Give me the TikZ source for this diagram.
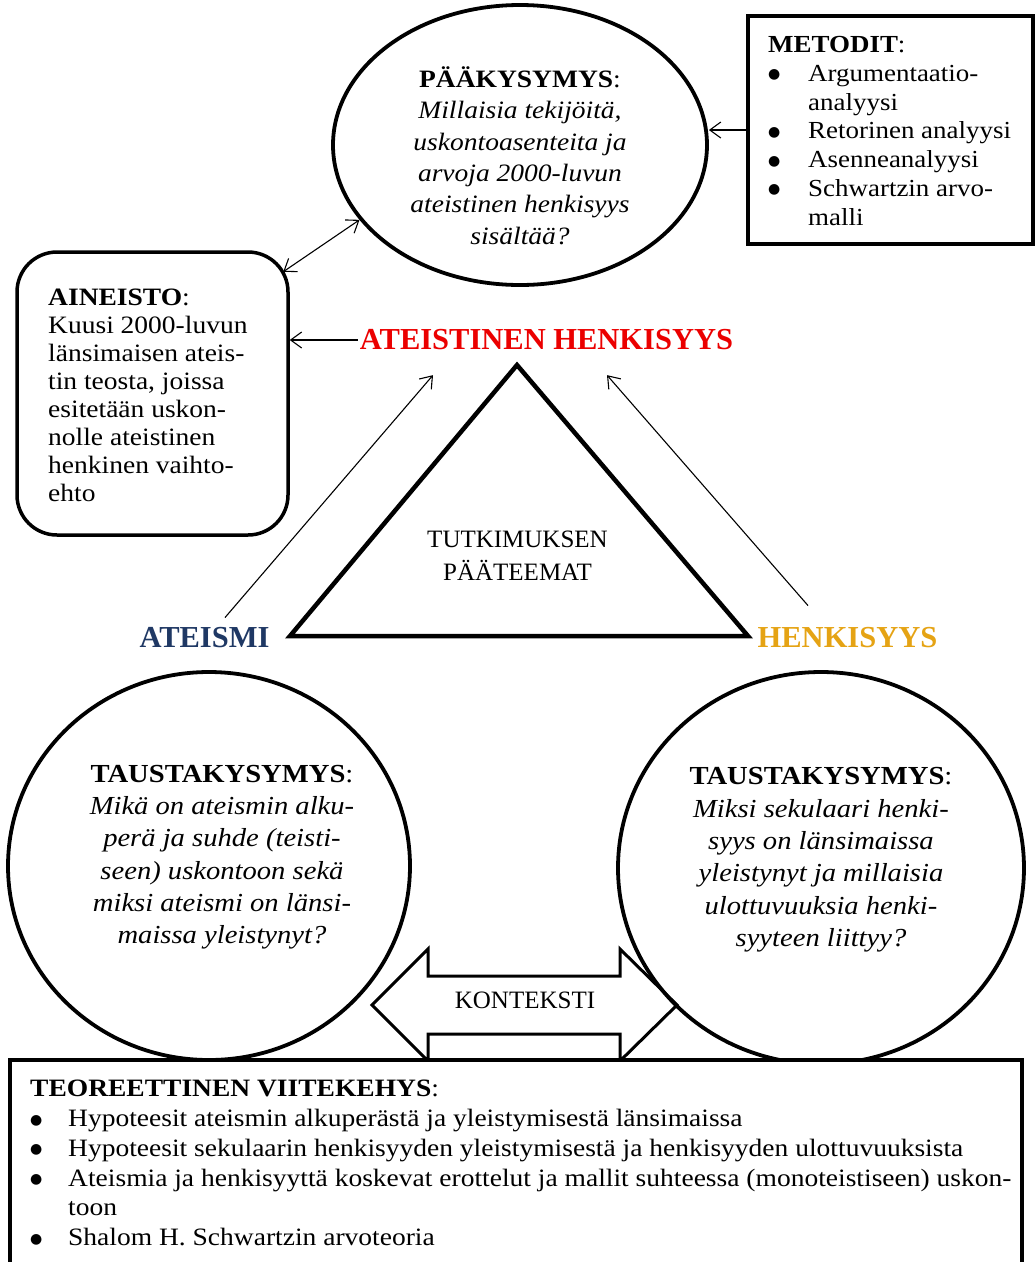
\documentclass[tikz,border=0pt]{standalone}
\usepackage{fontspec}
\setmainfont{Liberation Serif}
\newfontfamily\geo{Liberation Serif}[FakeStretch=1.1]
\newfontfamily\djv{DejaVu Sans}
\usetikzlibrary{shapes.geometric,arrows.meta,calc}
\definecolor{atblue}{RGB}{31,56,100}
\definecolor{hkgold}{RGB}{229,163,20}
\definecolor{ahred}{RGB}{235,0,0}
\newcommand\mystrut{\rule{0pt}{20pt}}
\newcommand\mbul[1]{\makebox[#1][l]{\raisebox{2.5pt}{\djv\fontsize{14}{14}\selectfont●}}}
\begin{document}
\begin{tikzpicture}[x=1pt,y=-1pt,
  oval/.style={ellipse,draw,line width=3.8pt,inner sep=0pt},
  box/.style={rectangle,draw,line width=3.5pt,inner sep=0pt},
  body/.style={inner sep=0pt},
  arr/.style={line width=1.1pt,-{Straight Barb[length=11pt,width=16pt]}},
  darr/.style={line width=1.1pt,{Straight Barb[length=11pt,width=16pt]}-{Straight Barb[length=11pt,width=16pt]}},
  theme/.style={font=\bfseries\fontsize{30.5}{34}\selectfont, inner sep=2pt},
  plain/.style={font=\fontsize{25}{33}\selectfont, inner sep=0pt}
]
\useasboundingbox (0,0) rectangle (1035,1262);

% shapes
\node[oval, minimum width=374pt, minimum height=280pt] (q) at (520,145) {};
\node[box, rounded corners=40pt, minimum width=271pt, minimum height=283pt] (ain) at (152.5,393.5) {};
\node[box, minimum width=285pt, minimum height=228pt] (met) at (890.5,130) {};
\node[oval, minimum width=402pt, minimum height=388pt] (lq) at (209,866) {};
\node[oval, minimum width=406pt, minimum height=392pt] (rq) at (821,868) {};

% triangle
\coordinate (tapex) at (517,365);
\coordinate (tleft) at (290,636);
\coordinate (tright) at (748,636);
\draw[line width=4.5pt, line join=miter] (tapex) -- (tleft) -- (tright) -- cycle;

% context double arrow
\draw[line width=3pt, line join=miter]
  (372,1005) -- (428,949) -- (428,976) -- (620,976) -- (620,949) -- (677,1005)
  -- (620,1061) -- (620,1034) -- (428,1034) -- (428,1061) -- cycle;
\node[plain] (kon) at (525,1000) {KONTEKSTI};

% bottom box
\node[box, fill=white, minimum width=1012pt, minimum height=215pt] (tb) at (516,1167.5) {};

% texts
\node[body, font=\geo\fontsize{25}{31.3}\selectfont, align=center, anchor=north] (qt) at (520,66.5)
  {\mystrut\textbf{PÄÄKYSYMYS}:\\
   \textit{Millaisia tekijöitä,}\\
   \textit{uskontoasenteita ja}\\
   \textit{arvoja 2000-luvun}\\
   \textit{ateistinen henkisyys}\\
   \textit{sisältää?}};

\node[body, font=\geo\fontsize{25}{28}\selectfont, align=left, anchor=north west] (aint) at (48,285.5)
  {\mystrut\textbf{AINEISTO}:\\
   Kuusi 2000-luvun\\
   länsimaisen ateis-\\
   tin teosta, joissa\\
   esitetään uskon-\\
   nolle ateistinen\\
   henkinen vaihto-\\
   ehto};

\node[body, font=\geo\fontsize{24.5}{28.75}\selectfont, align=left, anchor=north west] (mett) at (768,32.5)
  {\mystrut\textbf{METODIT}:\\
   \mbul{40pt}Argumentaatio-\\
   \hspace*{40pt}analyysi\\
   \mbul{40pt}Retorinen analyysi\\
   \mbul{40pt}Asenneanalyysi\\
   \mbul{40pt}Schwartzin arvo-\\
   \hspace*{40pt}malli};

\node[body, font=\geo\fontsize{26}{32.1}\selectfont, align=center, anchor=north] (lqt) at (222,762.5)
  {\mystrut\textbf{TAUSTAKYSYMYS}:\\
   \textit{Mikä on ateismin alku-}\\
   \textit{perä ja suhde (teisti-}\\
   \textit{seen) uskontoon sekä}\\
   \textit{miksi ateismi on länsi-}\\
   \textit{maissa yleistynyt?}};

\node[body, font=\geo\fontsize{26}{32.4}\selectfont, align=center, anchor=north] (rqt) at (821,764.5)
  {\mystrut\textbf{TAUSTAKYSYMYS}:\\
   \textit{Miksi sekulaari henki-}\\
   \textit{syys on länsimaissa}\\
   \textit{yleistynyt ja millaisia}\\
   \textit{ulottuvuuksia henki-}\\
   \textit{syyteen liittyy?}};

\node[body, font=\geo\fontsize{25}{29.8}\selectfont, align=left, anchor=north west] (tbt) at (30,1076.5)
  {\mystrut\textbf{TEOREETTINEN VIITEKEHYS}:\\
   \mbul{38pt}Hypoteesit ateismin alkuperästä ja yleistymisestä länsimaissa\\
   \mbul{38pt}Hypoteesit sekulaarin henkisyyden yleistymisestä ja henkisyyden ulottuvuuksista\\
   \mbul{38pt}Ateismia ja henkisyyttä koskevat erottelut ja mallit suhteessa (monoteistiseen) uskon-\\
   \hspace*{38pt}toon\\
   \mbul{38pt}Shalom H. Schwartzin arvoteoria};

\node[plain, align=center, anchor=north] (trit) at (517.5,531)
  {\rule{0pt}{16.5pt}TUTKIMUKSEN\\PÄÄTEEMAT};

\node[theme, text=ahred] (title) at (546.5,340) {ATEISTINEN HENKISYYS};
\node[theme, text=atblue] (ateismi) at (204.5,638) {ATEISMI};
\node[theme, text=hkgold] (henk) at (847.5,638) {HENKISYYS};

% connectors
\draw[arr] (met.west) -- (met.west -| q.east);
\draw[arr] (title.west) -- (title.west -| ain.east);
\coordinate (ainc) at ($(ain.north east)+(-6.5,21.5)$);
\draw[darr] (ainc) -- (q.205);
\coordinate (t1) at ($(title.south)+(-113.5,22.7)$);
\coordinate (t2) at ($(title.south)+(60.5,22.7)$);
\draw[arr] ($(ateismi.north)+(20.5,-8)$) -- (t1);
\draw[arr] ($(henk.north)+(-39.5,-20)$) -- (t2);
\end{tikzpicture}
\end{document}
